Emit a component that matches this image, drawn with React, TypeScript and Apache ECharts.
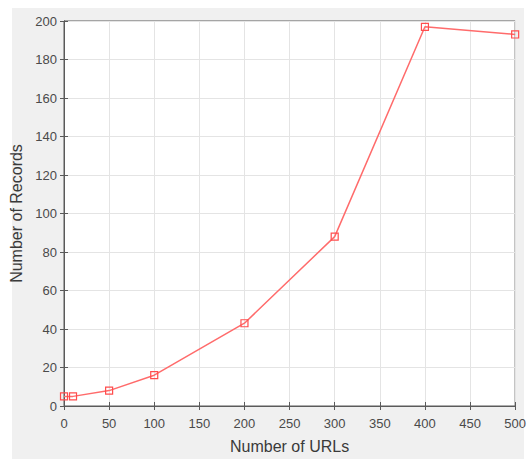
import React, { useEffect, useRef } from "react";
import * as echarts from "echarts";

const urls = [0, 10, 50, 100, 200, 300, 400, 500];
const records = [5, 5, 8, 16, 43, 88, 197, 193];
const xTitle = "Number of URLs";
const yTitle = "Number of Records";

export default function App() {
  const ref = useRef<HTMLDivElement>(null);
  useEffect(() => {
    if (!ref.current) return;
    const chart = echarts.init(ref.current, undefined, { renderer: "svg" });
    const axisColor = "#5a5a5a";
    const font = "Liberation Sans, Arial, sans-serif";
    const labelStyle = { color: "#4a4a4a", fontFamily: font, fontSize: 13 };
    const gridLine = { show: true, lineStyle: { color: "#e4e4e4", width: 1 } };
    chart.setOption({
      animation: false,
      backgroundColor: "#ffffff",
      graphic: [
        { type: "rect", z: -10, shape: { x: 12, y: 8, width: 512, height: 451 }, style: { fill: "#f0f0f0" } },
      ],
      grid: {
        left: 64, right: 8, top: 21, bottom: 49,
        show: true, backgroundColor: "#ffffff", borderColor: axisColor, borderWidth: 1,
      },
      xAxis: [
        {
          type: "value", min: 0, max: 500, interval: 50, position: "bottom",
          name: xTitle, nameLocation: "middle", nameGap: 32,
          nameTextStyle: { color: "#3a3a3a", fontFamily: font, fontSize: 16 },
          axisLine: { show: true, lineStyle: { color: axisColor } },
          axisTick: { show: true, inside: true, length: 4, lineStyle: { color: axisColor } },
          axisLabel: { ...labelStyle, margin: 11 },
          splitLine: gridLine,
        },
        {
          type: "value", min: 0, max: 500, interval: 50, position: "top",
          axisLine: { show: true, lineStyle: { color: axisColor } },
          axisTick: { show: true, inside: true, length: 4, lineStyle: { color: axisColor } },
          axisLabel: { show: false },
          splitLine: { show: false },
        },
      ],
      yAxis: [
        {
          type: "value", min: 0, max: 200, interval: 20, position: "left",
          name: yTitle, nameLocation: "middle", nameGap: 35,
          nameTextStyle: { color: "#3a3a3a", fontFamily: font, fontSize: 16 },
          axisLine: { show: true, lineStyle: { color: axisColor } },
          axisTick: { show: true, inside: true, length: 4, lineStyle: { color: axisColor } },
          axisLabel: { ...labelStyle, margin: 7 },
          splitLine: gridLine,
        },
        {
          type: "value", min: 0, max: 200, interval: 20, position: "right",
          axisLine: { show: true, lineStyle: { color: axisColor } },
          axisTick: { show: true, inside: true, length: 4, lineStyle: { color: axisColor } },
          axisLabel: { show: false },
          splitLine: { show: false },
        },
      ],
      series: [
        {
          type: "line",
          xAxisIndex: 0,
          yAxisIndex: 0,
          data: urls.map((u, i) => [u, records[i]]),
          symbol: "rect",
          symbolSize: 7,
          showAllSymbol: true,
          lineStyle: { color: "#ff6b6b", width: 1.5 },
          itemStyle: { color: "rgba(255,255,255,0)", borderColor: "#ff4d4d", borderWidth: 1.2 },
          clip: false,
          z: 5,
        },
      ],
    });
    return () => chart.dispose();
  }, []);
  return (
    <div
      ref={ref}
      style={{ position: "absolute", left: 0, top: 0, width: 529, height: 459 }}
    />
  );
}
